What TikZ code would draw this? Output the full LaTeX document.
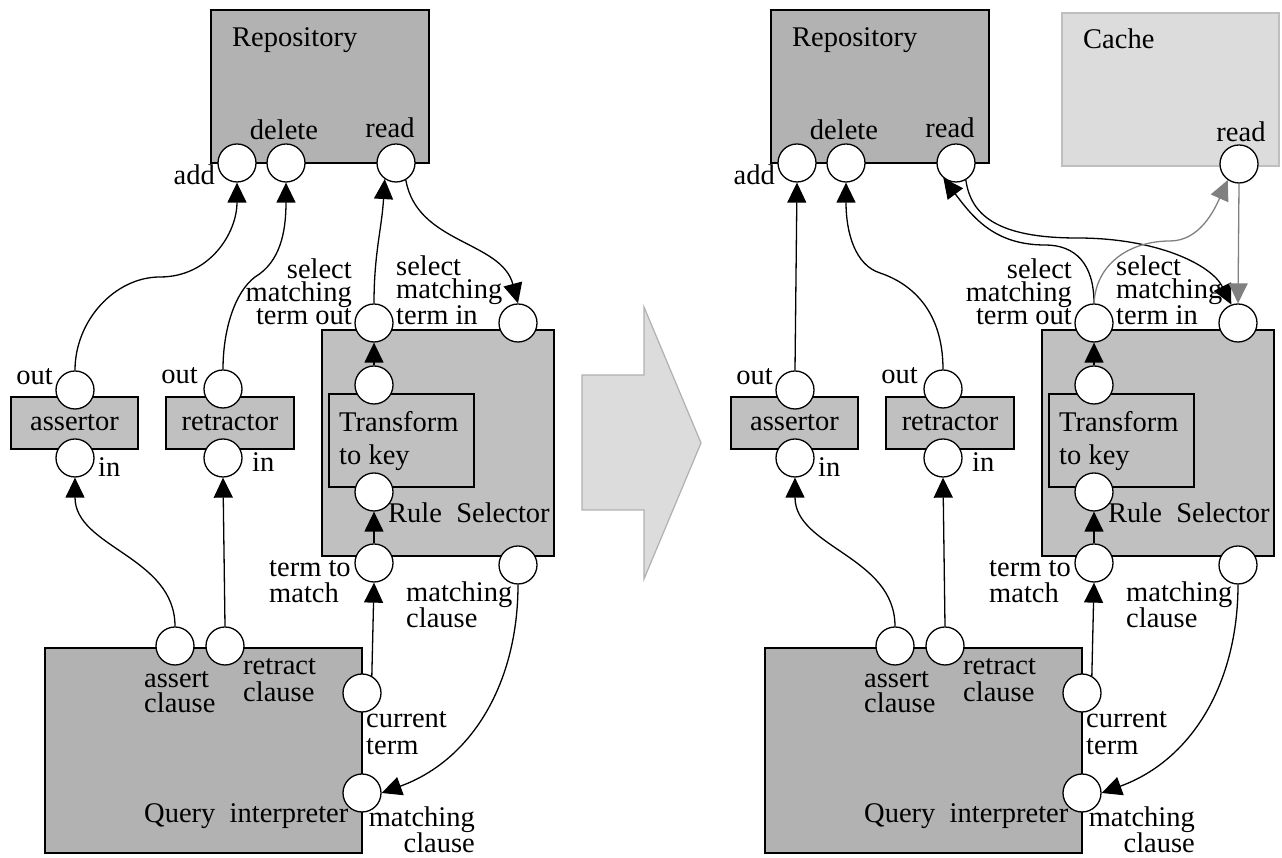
\documentclass[tikz,border=0pt]{standalone}
\usepackage{fontspec}
\setmainfont{Liberation Serif}
\usetikzlibrary{arrows.meta}

\definecolor{boxdark}{gray}{0.70}
\definecolor{boxlight}{gray}{0.753}
\definecolor{cachefill}{gray}{0.863}
\definecolor{cacheedge}{gray}{0.75}
\definecolor{wiregray}{gray}{0.5}
\definecolor{shiftfill}{gray}{0.863}
\definecolor{shiftedge}{gray}{0.69}

\tikzset{
  comp/.style={draw, rectangle, line width=1.3pt, inner sep=0pt},
  port/.style={circle, draw, fill=white, line width=1.3pt, minimum size=38pt, inner sep=0pt},
  wire/.style={line width=1.3pt, -{Triangle[length=20pt,width=19pt]}},
  graywire/.style={wire, draw=wiregray, -{Triangle[length=20pt,width=19pt,fill=wiregray]}},
  lbl/.style={inner sep=0pt, font=\fontsize{28.5}{26}\selectfont},
  lblsq/.style={lbl, font=\fontsize{28.5}{23}\selectfont},
}

% Assertor, retractor, rule selector and query interpreter with their wiring.
% #1 is the name prefix of the copy.  Multi-line labels sit on the baseline
% of their last line.
\newcommand\pipeline[1]{%
  \node[comp, lbl, fill=boxlight, minimum width=127pt, minimum height=52pt] (#1asr) at (74.5,435) {assertor};
  \node[comp, lbl, fill=boxlight, minimum width=128pt, minimum height=52pt] (#1ret) at (230,435) {retractor};
  \node[comp, fill=boxlight, minimum width=232pt, minimum height=226pt] (#1rs) at (438,415) {};
  \node[comp, fill=boxlight, minimum width=145pt, minimum height=93pt] (#1tk) at (401.5,417.5) {};
  \node[comp, fill=boxdark, minimum width=317pt, minimum height=205pt] (#1qi) at (203.5,107.5) {};
  % ports
  \node[port] (#1aout) at (75,468) {};
  \node[port] (#1ain)  at (75,400) {};
  \node[port] (#1rout) at (223,469) {};
  \node[port] (#1rin)  at (223,400) {};
  \node[port] (#1smo)  at (374,535) {};
  \node[port] (#1smi)  at (518,535) {};
  \node[port] (#1tkt)  at (374,473) {};
  \node[port] (#1tkb)  at (374,366) {};
  \node[port] (#1ttm)  at (374,295) {};
  \node[port] (#1rmc)  at (518,293) {};
  \node[port] (#1ac)   at (175,212) {};
  \node[port] (#1rc)   at (225,212) {};
  \node[port] (#1ct)   at (362,165) {};
  \node[port] (#1qmc)  at (362,65) {};
  % wiring
  \draw[wire] (#1ac.north) to[out=90,in=-90] (#1ain.south);
  \draw[wire] (#1rc.north) -- (#1rin.south);
  \draw[wire] (#1ct.60) -- (#1ttm.south);
  \draw[wire] (#1ttm.north) -- (#1tkb.south);
  \draw[wire] (#1tkt.north) -- (#1smo.south);
  \draw[wire] (#1rmc.south) to[out=-90,in=20] (#1qmc.east);
  % labels
  \node[lbl, anchor=base east] at (53,473) {out};
  \node[lbl, anchor=base west] at (98,381) {in};
  \node[lbl, anchor=base east] at (198,474) {out};
  \node[lbl, anchor=base west] at (252,386) {in};
  \node[lblsq, anchor=base east, align=right] at (352,533) {select\\matching\\term out};
  \node[lblsq, anchor=base west, align=left] at (396,533) {select\\matching\\term in};
  \node[lbl, anchor=base west, align=left, font=\fontsize{28.5}{33}\selectfont] at (339,393) {Transform\\to key};
  \node[lbl, anchor=base west] at (388,335) {Rule~~Selector};
  \node[lbl, anchor=base west, align=left] at (269,255) {term to\\match};
  \node[lbl, anchor=base west, align=left] at (406,230) {matching\\clause};
  \node[lbl, anchor=base west, align=left, font=\fontsize{28.5}{25}\selectfont] at (144,145) {assert\\clause};
  \node[lbl, anchor=base west, align=left, font=\fontsize{28.5}{27}\selectfont] at (243,156) {retract\\clause};
  \node[lbl, anchor=base west, align=left, font=\fontsize{28.5}{27}\selectfont] at (366,103) {current\\term};
  \node[lbl, anchor=base west] at (144,35) {Query~~interpreter};
  \node[lbl, anchor=base east, align=right, font=\fontsize{28.5}{25}\selectfont] at (475,5) {matching\\clause};
}

% Repository with its three ports; #1 prefix, #2 x offset
\newcommand\repository[2]{%
  \begin{scope}[xshift=#2pt]
    \node[comp, fill=boxdark, minimum width=218pt, minimum height=153pt] (#1repo) at (320,771.5) {};
    \node[port] (#1add)  at (237,695) {};
    \node[port] (#1del)  at (286,695) {};
    \node[port] (#1read) at (396,695) {};
    \node[lbl, anchor=base west] at (232,811) {Repository};
    \node[lbl, anchor=base east] at (215,673) {add};
    \node[lbl, anchor=base] at (284,718) {delete};
    \node[lbl, anchor=base] at (390,720) {read};
  \end{scope}
}

\begin{document}
\begin{tikzpicture}[x=1pt,y=1pt]
  \useasboundingbox (0,0) rectangle (1282,858);

  % transition arrow between the two configurations
  \draw[fill=shiftfill, draw=shiftedge, line width=1.2pt]
    (582,483) -- (644,483) -- (644,551) -- (701,415) -- (644,279) -- (644,348) -- (582,348) -- cycle;

  % ---------------- first configuration ----------------
  \repository{L}{0}
  \pipeline{L}
  \draw[wire] (Laout.north) .. controls +(0,50) and +(-45,0) .. (160,581)
                            .. controls +(50,0) and +(0,-50) .. (Ladd.south);
  \draw[wire] (Lrout.north) .. controls +(0,40) and +(-20,-15) .. (255,581)
                            .. controls +(25,15) and +(0,-50) .. (Ldel.south);
  \draw[wire] (Lsmo.north) .. controls +(0,50) and +(-3,-50) .. (Lread.235);
  \draw[wire] (Lread.300) to[out=-80,in=105] (Lsmi.north);

  % ---------------- second configuration ----------------
  \repository{R}{560}
  \node[comp, draw=cacheedge, fill=cachefill, minimum width=217pt, minimum height=153pt] (cache) at (1170.5,768.5) {};
  \node[port] (Cread) at (1239,694) {};
  \node[lbl, anchor=base west] at (1083,809) {Cache};
  \node[lbl, anchor=base] at (1241,716) {read};

  \begin{scope}[xshift=720pt]
    \pipeline{R}
  \end{scope}

  \draw[wire] (Raout.north) -- (Radd.south);
  \draw[wire] (Rrout.north) .. controls +(0,60) and +(30,-10) .. (880,585)
                            .. controls +(-25,8) and +(0,-50) .. (Rdel.south);
  \draw[wire] (Rsmo.north) .. controls +(0,40) and +(30,0) .. (1045,613)
                           .. controls +(-50,0) and +(30,-40) .. (Rread.230);
  \draw[wire] (Rread.300) .. controls +(5,-35) and +(-80,0) .. (1077,620)
                          .. controls +(80,0) and +(-20,40) .. (Rsmi.110);
  \draw[graywire] (Rsmo.north) .. controls +(2,40) and +(-40,0) .. (1170,617)
                               .. controls +(30,0) and +(-13,-29) .. (Cread.235);
  \draw[graywire] (Cread.south) -- (Rsmi.north);
\end{tikzpicture}
\end{document}
